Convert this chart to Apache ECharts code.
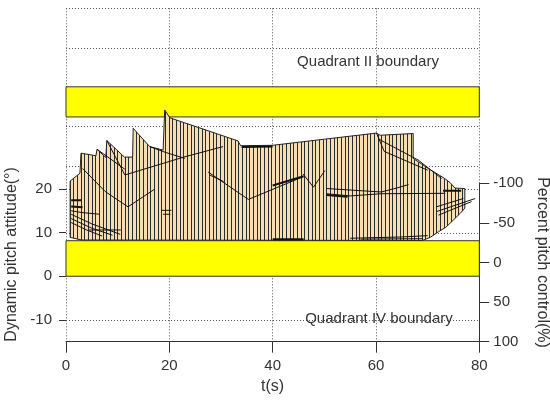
<!DOCTYPE html>
<html><head><meta charset="utf-8">
<script src="https://cdn.jsdelivr.net/npm/echarts@6/dist/echarts.min.js"></script>
<style>html,body{margin:0;padding:0;background:#fff}#c{width:550px;height:400px}</style>
</head><body><div id="c"></div>
<script>
// ---- axes / ticks ----
const xTicks = [0, 20, 40, 60, 80];
const leftTicks = [-10, 0, 10, 20];
const rightTicks = [-100, -50, 0, 50, 100];
const gridLevels = [61.39, 52.2, 34.4, 25.2, 20, 10, -10];
// ---- boundary bands (left-axis units) ----
const bandX = [0, 80];
const bandLow = [0, 8.14];
const bandHigh = [36.5, 43.4];
// ---- envelope of the response region ----
const envTime = [0.8, 2.7, 2.9, 5.8, 6.0, 7.7, 7.9, 11.3, 12.9, 13.0, 16.2, 18.8, 19.1, 20.1, 33.3, 33.8, 40, 50, 60.1, 60.8, 67.2, 67.2, 70.1, 73.3, 74.3, 75.3, 77.2];
const envTop  = [21.8, 23.6, 28.2, 27.6, 29.1, 27.2, 31.1, 27.3, 27.3, 33.9, 29.7, 28.9, 38.1, 36.3, 31.0, 29.9, 30.0, 31.4, 32.8, 32.3, 32.7, 27.0, 24.7, 22.4, 21.5, 20.2, 20.1];
const baseTime = [0.8, 3.0, 69.0, 70.5, 72.1, 73.5, 75.0, 76.3, 77.2];
const baseVal  = [8.9, 8.3, 8.2, 8.9, 10.2, 11.2, 12.9, 14.4, 15.6];
// ---- inner trace lines ----
const lineA  = [[3.2, 24.7], [7.6, 19.4], [12.0, 15.9], [17.1, 19.9]];
const lineB  = [[11.4, 23.2], [22.8, 27.3], [30.4, 29.7]];
const lineC  = [[16.2, 29.7], [19.2, 28.4], [23.0, 27.0]];
const lineC2 = [[7.9, 31.1], [11.4, 23.2]];
const lineC3 = [[6.0, 29.1], [11.4, 24.5]];
const lineD  = [[27.5, 23.9], [35.3, 17.6], [45.9, 22.8]];
const lineD2 = [[27.8, 23.2], [30.5, 21.7]];
const lineV  = [[45.9, 23.4], [47.9, 20.4], [50.1, 24.2]];
const lineE1 = [[50.4, 20.1], [61.0, 19.3], [64.0, 20.2], [66.3, 21.0]];
const lineE2 = [[50.4, 18.9], [55.0, 18.4], [61.0, 18.9], [73.4, 19.0]];
const lineF  = [[60.4, 31.5], [68.2, 26.6], [72.7, 22.4]];
const lineF2 = [[60.1, 32.8], [61.6, 28.6], [70.0, 24.3]];
const lowL1 = [[1.0, 14.2], [5.0, 12.0], [10.5, 9.6]];
const lowL2 = [[1.0, 13.2], [5.0, 11.0], [9.0, 9.4]];
const lowL3 = [[1.0, 12.3], [4.0, 10.6], [7.0, 9.2]];
const lowL4 = [[1.0, 15.0], [3.0, 14.6], [6.5, 14.2]];
const lowL5 = [[4.5, 10.6], [10.6, 10.6]];
const tailL1 = [[71.7, 14.8], [79.2, 17.8]];
const tailL2 = [[72.1, 14.0], [78.5, 17.1]];
const tailL3 = [[71.7, 15.9], [76.9, 17.8]];
const bottomL1 = [[55, 8.7], [65, 9.0], [70, 9.3]];
const bottomL2 = [[57, 8.5], [69, 8.6]];
const markL1 = [[18.5, 15.1], [20.4, 15.1]];
const markL2 = [[18.8, 14.2], [20.2, 14.2]];
const thick1 = [[1.0, 17.4], [3.0, 17.4]];
const thick2 = [[1.0, 16.0], [3.2, 15.8]];
const thick3 = [[50.4, 18.6], [54.5, 18.2]];
const thick4 = [[40.0, 8.5], [46.0, 8.5]];
const thick5 = [[73.0, 19.6], [76.5, 19.6]];
const thick6 = [[34.0, 29.6], [40.0, 29.7]];
const thick7 = [[40.0, 20.8], [46.0, 22.9]];

const FONT = '"Liberation Sans", Arial, sans-serif';
const TXT = '#333';

// hatch pattern: wheat fill with thin vertical dark lines
const pc = document.createElement('canvas');
pc.width = 11; pc.height = 4;
const g = pc.getContext('2d');
g.fillStyle = '#f5deb3'; g.fillRect(0, 0, 11, 4);
g.fillStyle = '#2b2b2b';
[0, 4, 7].forEach(x => g.fillRect(x, 0, 1, 4));
const hatch = { image: pc, repeat: 'repeat' };

const thinLines = [lineA, lineB, lineC, lineC2, lineC3, lineD, lineD2, lineV, lineE1, lineE2, lineF, lineF2,
  lowL1, lowL2, lowL3, lowL4, lowL5, tailL1, tailL2, tailL3, bottomL1, bottomL2, markL1, markL2];
const thickLines = [thick1, thick2, thick3, thick4, thick5, thick6, thick7];

const series = [];
// horizontal dotted grid lines
series.push({
  type: 'custom', xAxisIndex: 0, yAxisIndex: 0, silent: true, z: 1, clip: false,
  data: gridLevels.map(v => [bandX[0], v]),
  encode: { x: 0, y: 1 },
  renderItem: (p, api) => {
    const a = api.coord([bandX[0], api.value(1)]);
    const b = api.coord([bandX[1], api.value(1)]);
    return { type: 'line', shape: { x1: a[0], y1: Math.round(a[1]) + 0.5, x2: b[0], y2: Math.round(b[1]) + 0.5 },
      style: { stroke: '#555', lineWidth: 1, lineDash: [1, 2] } };
  }
});
// yellow bands
series.push({
  type: 'custom', xAxisIndex: 0, yAxisIndex: 0, silent: true, z: 2,
  data: [[bandX[0], bandX[1], bandLow[0], bandLow[1]], [bandX[0], bandX[1], bandHigh[0], bandHigh[1]]],
  encode: { x: [0, 1], y: [2, 3] },
  renderItem: (p, api) => {
    const a = api.coord([api.value(0), api.value(3)]);
    const b = api.coord([api.value(1), api.value(2)]);
    return { type: 'rect', shape: { x: a[0], y: a[1], width: b[0] - a[0], height: b[1] - a[1] },
      style: { fill: '#ffff00', stroke: '#333', lineWidth: 1 } };
  }
});
// hatched response region
series.push({
  type: 'custom', xAxisIndex: 0, yAxisIndex: 0, silent: true, z: 3,
  data: [[envTime[0], envTop[0]]],
  encode: { x: 0, y: 1 },
  renderItem: (p, api) => {
    const pts = [];
    for (let i = 0; i < envTime.length; i++) pts.push(api.coord([envTime[i], envTop[i]]));
    for (let i = baseTime.length - 1; i >= 0; i--) pts.push(api.coord([baseTime[i], baseVal[i]]));
    return { type: 'polygon', shape: { points: pts }, style: { fill: hatch, stroke: '#222', lineWidth: 1 } };
  }
});
thinLines.forEach(d => series.push({
  type: 'line', xAxisIndex: 0, yAxisIndex: 0, data: d, symbol: 'none', silent: true, z: 4,
  lineStyle: { color: '#111', width: 1 }
}));
thickLines.forEach(d => series.push({
  type: 'line', xAxisIndex: 0, yAxisIndex: 0, data: d, symbol: 'none', silent: true, z: 4,
  lineStyle: { color: '#111', width: 2 }
}));

const gridBase = { left: 66, right: 70.7, containLabel: false, outerBoundsMode: 'none' };
const chart = echarts.init(document.getElementById('c'), null, { renderer: 'canvas' });
chart.setOption({
  animation: false,
  textStyle: { fontFamily: FONT },
  grid: [
    Object.assign({ top: 8.3, bottom: 58.3 }, gridBase),
    Object.assign({ top: 188.9, bottom: 80.1 }, gridBase),
    Object.assign({ top: 183.3, bottom: 58.3 }, gridBase)
  ],
  xAxis: [
    { gridIndex: 0, type: 'value', min: xTicks[0], max: xTicks[xTicks.length - 1], interval: 20,
      name: 't(s)', nameLocation: 'middle', nameGap: 35,
      nameTextStyle: { fontSize: 16, color: TXT, fontFamily: FONT },
      axisLine: { show: true, onZero: false, lineStyle: { color: '#333', width: 1 } },
      axisTick: { show: true, length: 11, lineStyle: { color: '#333' } },
      axisLabel: { fontSize: 15, color: TXT, margin: 17, fontFamily: FONT },
      splitLine: { show: true, lineStyle: { color: '#555', width: 1, type: [1, 2] } } },
    { gridIndex: 1, type: 'value', min: 0, max: 80, show: false, axisLine: { onZero: false } },
    { gridIndex: 2, type: 'value', min: 0, max: 80, show: false, axisLine: { onZero: false } }
  ],
  yAxis: [
    { gridIndex: 0, type: 'value', min: -15, max: 61.39, show: false, axisLine: { onZero: false }, splitLine: { show: false } },
    { gridIndex: 1, type: 'value', position: 'left', min: leftTicks[0], max: leftTicks[leftTicks.length - 1], interval: 10,
      name: 'Dynamic pitch attitude(°)', nameLocation: 'middle', nameGap: 43,
      nameTextStyle: { fontSize: 16, color: TXT, fontFamily: FONT },
      axisLine: { show: false, onZero: false },
      axisTick: { show: true, length: 7, customValues: leftTicks, lineStyle: { color: '#333' } },
      axisLabel: { fontSize: 15, color: TXT, margin: 14, customValues: leftTicks, fontFamily: FONT },
      splitLine: { show: false } },
    { gridIndex: 2, type: 'value', position: 'right', min: rightTicks[0], max: rightTicks[rightTicks.length - 1], interval: 50, inverse: true,
      name: 'Percent pitch control(%)', nameLocation: 'middle', nameGap: 48, nameRotate: -90,
      nameTextStyle: { fontSize: 16, color: TXT, fontFamily: FONT },
      axisLine: { show: true, onZero: false, lineStyle: { color: '#333', width: 1 } },
      axisTick: { show: true, length: 10, lineStyle: { color: '#333' } },
      axisLabel: { fontSize: 15, color: TXT, margin: 14, fontFamily: FONT },
      splitLine: { show: false } }
  ],
  graphic: [
    { type: 'text', x: 368, y: 62, z: 10, style: { text: 'Quadrant II boundary', fontSize: 15, fontFamily: FONT, fill: TXT, align: 'center', verticalAlign: 'middle' } },
    { type: 'text', x: 379, y: 319, z: 10, style: { text: 'Quadrant IV boundary', fontSize: 15, fontFamily: FONT, fill: TXT, align: 'center', verticalAlign: 'middle' } }
  ],
  series: series
});
</script></body></html>
